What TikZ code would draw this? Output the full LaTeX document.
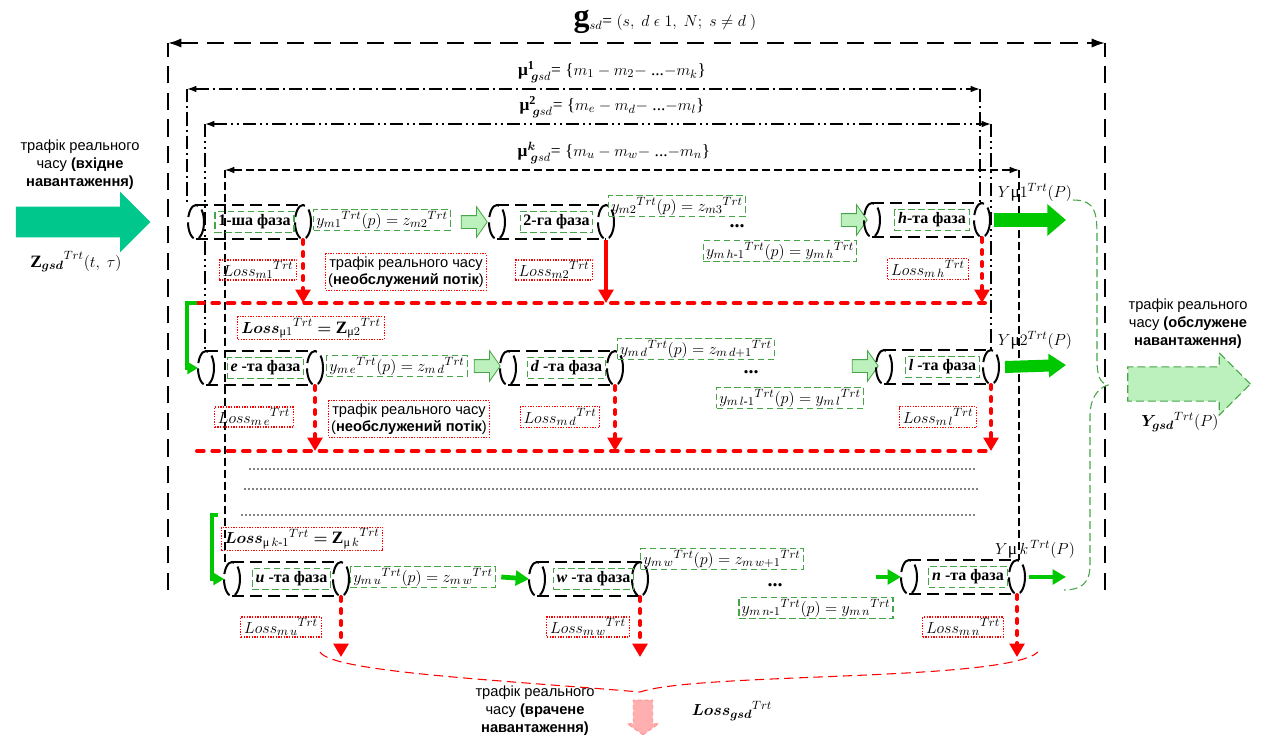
\documentclass[tikz,border=0pt]{standalone}
\usepackage{amsmath,bm}
\usepackage{fontspec}
\setmainfont{Liberation Serif}
\setsansfont{Liberation Sans}
\usetikzlibrary{arrows.meta,shapes.arrows}

\definecolor{grnline}{RGB}{70,165,70}
\definecolor{grnthick}{RGB}{0,200,0}
\definecolor{inteal}{RGB}{0,200,140}
\definecolor{lightgrn}{RGB}{188,240,188}
\definecolor{pinkfill}{RGB}{255,175,175}

% phase: name, left x, right x, centre y, label
\newcommand{\faza}[5]{%
  \draw[fazaline] (#2+8,#4-17) -- (#3-8,#4-17) (#2+8,#4+17) -- (#3-8,#4+17);
  \draw[fazaend] (#2+8,#4) ellipse (8 and 17);
  \draw[fazaend] (#3-8,#4) ellipse (8 and 17);
  \node[fazalbl] (#1) at ({(#2+#3)/2+5},#4) {#5};
  \coordinate (#1w) at (#2,#4);
  \coordinate (#1e) at (#3,#4);
  \coordinate (#1se) at (#3-8,#4+18);
}

\begin{document}
\begin{tikzpicture}[x=0.75pt,y=-0.75pt,
  plain/.style={font=\fontsize{13}{15}\selectfont},
  sanslbl/.style={align=center, font=\sffamily\fontsize{11}{13.5}\selectfont},
  outer/.style={line width=1.6pt, dash pattern=on 13pt off 7pt},
  muone/.style={line width=1.1pt, dash pattern=on 10pt off 3pt on 1.5pt off 3pt},
  mutwo/.style={line width=1.1pt, dash pattern=on 10pt off 3pt on 1.5pt off 3pt on 1.5pt off 3pt},
  muk/.style={line width=0.8pt, dash pattern=on 6pt off 3pt},
  mutips/.style={>={Latex[length=7pt,width=5pt]}, <->},
  fazaline/.style={line width=1.5pt, dash pattern=on 9pt off 4.5pt},
  fazaend/.style={line width=1.5pt, dash pattern=on 13pt off 4pt},
  fazalbl/.style={draw=grnline, dash pattern=on 5pt off 2.5pt, line width=0.9pt, inner sep=2.5pt, font=\fontsize{12}{14}\selectfont\bfseries},
  ybox/.style={draw=grnline, dash pattern=on 5pt off 2.5pt, line width=0.9pt, inner xsep=2pt, inner ysep=1pt, font=\fontsize{13}{15}\selectfont},
  lossbox/.style={draw=red, dash pattern=on 1pt off 1pt, line width=0.8pt, inner xsep=2.5pt, inner ysep=1pt, font=\fontsize{13}{15}\selectfont},
  trbox/.style={draw=red, dash pattern=on 1pt off 1pt, line width=0.8pt, inner sep=2pt, align=center, font=\sffamily\fontsize{11}{13}\selectfont},
  dotsym/.style={font=\bfseries\fontsize{15}{15}\selectfont, inner sep=1pt},
  redline/.style={red, line width=3pt, line cap=round, dash pattern=on 5pt off 6.5pt},
  lossarr/.style={red, line width=3pt, line cap=round, dash pattern=on 3pt off 6pt, -{Triangle[length=10pt,width=11pt]}},
  dotline/.style={line width=1.4pt, line cap=round, dash pattern=on 0pt off 3pt},
  elbow/.style={grnthick, line width=2.3pt, -{Triangle[length=8pt,width=9pt]}},
  grnarr/.style={grnthick, line width=3.6pt, -{Triangle[length=10pt,width=11pt]}},
  bigarr/.style={grnthick, line width=11pt, -{Triangle[length=14pt,width=23pt]}},
  lightarr/.style={single arrow, fill=lightgrn, draw=grnline, line width=0.6pt, inner sep=0pt,
    minimum height=19.5pt, text height=9pt, text depth=0pt, single arrow head extend=6.75pt, single arrow tip angle=110}
]
\useasboundingbox (0,0) rectangle (1270,736);

% frames
\node[plain] (title) at (665,22) {{\fontsize{24}{24}\selectfont\bfseries g}${}_{sd}$= $(s,\ d\ \epsilon\ 1,\ N;\ s\neq d\ )$};
\coordinate (o1) at (168,590); \coordinate (o2) at (168,43);
\coordinate (o3) at (1105,43); \coordinate (o4) at (1105,590);
\draw[outer] (o1) -- (o2);
\draw[outer] (o4) -- (o3);
\draw[outer, >={Latex[length=10pt,width=7pt]}, <->] (o2) -- (o3);

\node[plain] (mu1) at (612,72) {\textbf{μ}${}^{\mathbf{1}}_{\;\bm{g}sd}$= \{$m_1 - m_2 -$ ...$- m_k$\}};
\draw[muone, mutips] (187,89) -- (980,89);
\draw[muone] (187,89) -- (187,205) (980,89) -- (980,205);

\node[plain] (mu2) at (612,107) {\textbf{μ}${}^{\mathbf{2}}_{\;\bm{g}sd}$= \{$m_e - m_d -$ ...$- m_l$\}};
\draw[mutwo, mutips] (205,124) -- (991,124);
\draw[mutwo] (205,124) -- (205,350) (991,124) -- (991,350);

\node[plain] (muk) at (614,153) {\textbf{μ}${}^{\bm{k}}_{\;\bm{g}sd}$= \{$m_u - m_w -$ ...$- m_n$\}};
\draw[muk, mutips] (225,170) -- (1019,170);
\draw[muk] (225,170) -- (225,562) (1019,170) -- (1019,560);

% input
\node[sanslbl] (intext) at (80,165) {трафік реального\\часу \textbf{(вхідне}\\\textbf{навантаження)}};
\node[single arrow, fill=inteal, inner sep=0pt, minimum height=101pt, text height=22.5pt, text depth=0pt,
  single arrow head extend=11.25pt] (inarr) at (75.5,222) {};
\node[plain] (inz) at (76,262) {${\mathbf{Z}_{\bm{gsd}}}^{Trt}(t,\ \tau)$};

% row 1
\faza{p1}{188}{311}{222}{1-ша фаза}
\node[ybox] (y1) at (382,220) {${y_{m1}}^{Trt}(p) = {z_{m2}}^{Trt}$};
\node[lightarr] (la1) at (472,222) {};
\faza{p2}{489}{614}{222}{2-га фаза}
\node[ybox] (y2) at (677,206) {${y_{m2}}^{Trt}(p) = {z_{m3}}^{Trt}$};
\node[dotsym] (dt1) at (737,226) {...};
\node[ybox] (y3) at (780,251) {${y_{m\,h\text{-}1}}^{Trt}(p) = {y_{m\,h}}^{Trt}$};
\node[lightarr] (la2) at (852,220) {};
\faza{ph}{864}{990}{220}{\textit{h}-та фаза}
\coordinate (ya1) at (1066,220);
\draw[bigarr] (phe) ++(4,0) -- (ya1);
\node[plain] (yo1) at (1035,192) {$Y\text{μ}1^{Trt}(P)$};

\node[lossbox] (l1) at (258,270) {${Loss_{m1}}^{Trt}$};
\node[trbox] (tr1) at (406,272) {трафік реального часу\\(\textbf{необслужений потік})};
\node[lossbox] (l2) at (554,270) {${Loss_{m2}}^{Trt}$};
\node[lossbox] (l3) at (928,269) {${Loss_{m\,h}}^{Trt}$};
\coordinate (r1a) at (197,303); \coordinate (r1b) at (985,303);
\draw[redline] (r1a) -- (r1b);
\draw[lossarr] (p1se) -- (p1se |- r1a);
\draw[lossarr, solid, line cap=butt] (p2se) -- (p2se |- r1a);
\draw[lossarr] (phse) -- (phse |- r1a);

% row 2
\node[lossbox] (lm1) at (311,328) {${\bm{Loss}_{\text{μ}1}}^{Trt} \bm{=} {\mathbf{Z}_{\text{μ}2}}^{Trt}$};
\faza{pe}{198}{323}{368}{\textit{e} -та фаза}
\draw[elbow] (r1a) -- ++(-10,0) |- (pew);
\node[ybox] (ye) at (397,366) {${y_{m\,e}}^{Trt}(p) = {z_{m\,d}}^{Trt}$};
\node[lightarr] (la3) at (485,366) {};
\faza{pd}{500}{623}{368}{\textit{d} -та фаза}
\node[ybox] (yd) at (696,349) {${y_{m\,d}}^{Trt}(p) = {z_{m\,d+1}}^{Trt}$};
\node[dotsym] (dt2) at (751,372) {...};
\node[ybox] (yl1) at (790,398) {${y_{m\,l\text{-}1}}^{Trt}(p) = {y_{m\,l}}^{Trt}$};
\node[lightarr] (la4) at (863,366) {};
\faza{pl}{876}{999}{367}{\textit{l} -та фаза}
\coordinate (ya2) at (1066,365);
\draw[bigarr, line width=9pt, -{Triangle[length=13pt,width=17pt]}] (ple) ++(6,0) -- (ya2);
\node[plain] (yo2) at (1035,340) {$Y\text{μ}2^{Trt}(P)$};

\node[lossbox] (l4) at (254,417) {${Loss_{m\,e}}^{Trt}$};
\node[trbox] (tr2) at (409,419) {трафік реального часу\\(\textbf{необслужений потік})};
\node[lossbox] (l5) at (560,417) {${Loss_{m\,d}}^{Trt}$};
\node[lossbox] (l6) at (938,417) {${Loss_{m\,l}}^{Trt}$};
\coordinate (r2a) at (197,451); \coordinate (r2b) at (986,451);
\draw[redline] (r2a) -- (r2b);
\draw[lossarr] (pese) -- (pese |- r2a);
\draw[lossarr] (pdse) -- (pdse |- r2a);
\draw[lossarr] (plse) -- (plse |- r2a);

% skipped routes
\draw[dotline] (250,469) -- (977,469);
\draw[dotline] (245,489) -- (977,489);
\draw[dotline] (242,515) -- (977,515);

% row k
\node[lossbox] (lmk) at (302,539) {${\bm{Loss}_{\text{μ}\,k\text{-}1}}^{Trt} \bm{=} {\mathbf{Z}_{\text{μ}\,k}}^{Trt}$};
\faza{pu}{224}{349}{579}{\textit{u} -та фаза}
\coordinate (k0) at (218,515);
\draw[elbow] (k0) -- ++(-6,0) |- (puw);
\node[ybox] (yu) at (423,577) {${y_{m\,u}}^{Trt}(p) = {z_{m\,w}}^{Trt}$};
\faza{pw}{529}{648}{579}{\textit{w} -та фаза}
\draw[grnarr] ([xshift=4pt]yu.east) -- (pww);
\node[ybox] (yw) at (722,559) {${y_{m\,w}}^{Trt}(p) = {z_{m\,w+1}}^{Trt}$};
\node[dotsym] (dt3) at (775,585) {...};
\node[ybox] (yn1) at (816,608) {${y_{m\,n\text{-}1}}^{Trt}(p) = {y_{m\,n}}^{Trt}$};
\faza{pn}{901}{1025}{577}{\textit{n} -та фаза}
\coordinate (gk) at (876,577);
\draw[grnarr] (gk) -- (pnw);
\coordinate (ya3) at (1066,577);
\draw[grnarr] (pne) ++(4,0) -- (ya3);
\node[plain] (yo3) at (1035,549) {$Y\text{μ}\,k^{\,Trt}(P)$};

\node[lossbox] (l7) at (281,627) {${Loss_{m\,u}}^{Trt}$};
\node[lossbox] (l8) at (588,627) {${Loss_{m\,w}}^{Trt}$};
\node[lossbox] (l9) at (963,627) {${Loss_{m\,n}}^{Trt}$};
\coordinate (rk) at (320,657);
\draw[lossarr] (puse) -- (puse |- rk);
\draw[lossarr] (pwse) -- (pwse |- rk);
\draw[lossarr] (pnse) -- (pnse |- rk);

% output (served)
\draw[grnline, line width=0.8pt, dash pattern=on 6pt off 3pt]
  (1073,200) .. controls (1097,200) and (1097,215) .. (1097,240) -- (1097,360)
  .. controls (1097,376) and (1100,383) .. (1108,385)
  .. controls (1097,388) and (1090,400) .. (1090,415) -- (1090,565)
  .. controls (1090,584) and (1080,590) .. (1064,590);
\node[sanslbl] (outtext) at (1188,324) {трафік реального\\часу \textbf{(обслужене}\\\textbf{навантаження)}};
\node[single arrow, fill=lightgrn, draw=grnline, line width=0.8pt, dash pattern=on 6pt off 3pt, inner sep=0pt,
  minimum height=92pt, text height=25pt, text depth=0pt, single arrow head extend=10.5pt] (outarr) at (1180.5,384) {};
\node[plain] (outy) at (1180,422) {${\bm{Y}_{\bm{gsd}}}^{Trt}(P)$};

% output (lost)
\draw[red, line width=0.8pt, dash pattern=on 7pt off 4pt]
  (320,652) .. controls (332,672) and (500,680) .. (640,692)
  .. controls (700,672) and (1005,682) .. (1038,652);
\node[single arrow, fill=pinkfill, draw=red!45, line width=0.6pt, dash pattern=on 3pt off 2pt, inner sep=0pt, rotate=-90,
  minimum height=26pt, text height=14pt, text depth=0pt, single arrow head extend=4.5pt, single arrow tip angle=110] (lossout) at (643,714) {};
\node[sanslbl] (losstext) at (535,711) {трафік реального\\часу \textbf{(врачене}\\\textbf{навантаження)}};
\node[plain] (lossg) at (732,711) {${\bm{Loss}_{\bm{gsd}}}^{Trt}$};
\end{tikzpicture}
\end{document}
